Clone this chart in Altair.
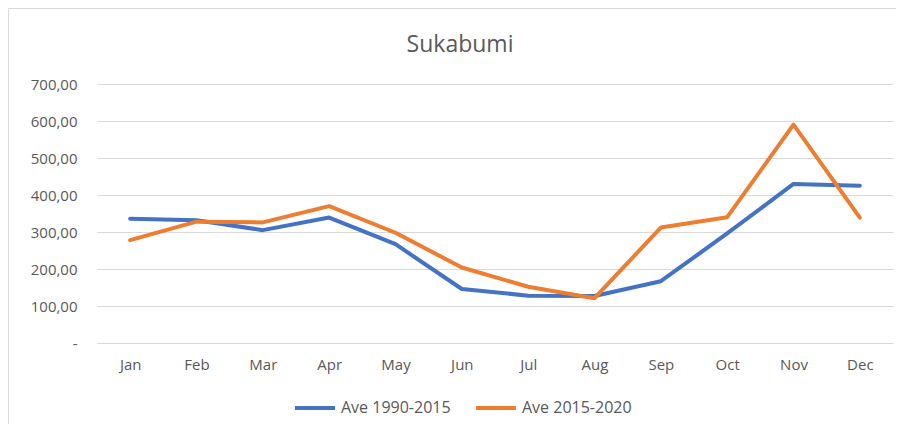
import altair as alt
import pandas as pd

months = ["Jan", "Feb", "Mar", "Apr", "May", "Jun", "Jul", "Aug", "Sep", "Oct", "Nov", "Dec"]
ave_1990_2015 = [336, 332, 305, 339, 267, 146, 128, 127, 167, 296, 430, 425]
ave_2015_2020 = [278, 328, 326, 370, 298, 204, 152, 121, 312, 340, 590, 339]
series_names = ["Ave 1990-2015", "Ave 2015-2020"]
colors = ["#4472C4", "#ED7D31"]
title_text = ["Sukabumi"]

rows = []
for name, vals in zip(series_names, [ave_1990_2015, ave_2015_2020]):
    for m, v in zip(months, vals):
        rows.append({"Month": m, "Value": v, "Series": name})
df = pd.DataFrame(rows)

W, H = 796, 259
PL, PT = 89, 76

font = "Open Sans"
gray = "#595959"

border = alt.Chart(pd.DataFrame({"a": [0]})).mark_rect(
    fill=None, stroke="#D9D9D9", strokeWidth=1, clip=False
).encode(
    x=alt.value(-PL + 0.5), x2=alt.value(W + 60),
    y=alt.value(-PT + 0.5), y2=alt.value(H + 200),
)

title = alt.Chart(pd.DataFrame({"t": title_text})).mark_text(
    font=font, fontSize=23, color=gray, align="center", baseline="middle", clip=False
).encode(text="t:N", x=alt.value(363), y=alt.value(-39))

lines = alt.Chart(df).mark_line(strokeWidth=4, strokeCap="round", strokeJoin="round").encode(
    x=alt.X("Month:N", sort=months, scale=alt.Scale(type="point", padding=0.5),
            axis=alt.Axis(title=None, labelAngle=0, ticks=False, domain=False, grid=False,
                          labelPadding=14, labelFontSize=15, labelColor=gray, labelFont=font)),
    y=alt.Y("Value:Q", scale=alt.Scale(domain=[0, 700], nice=False),
            axis=alt.Axis(title=None, values=[0, 100, 200, 300, 400, 500, 600, 700],
                          ticks=False, domain=False, gridColor="#D9D9D9", gridWidth=1,
                          labelPadding=20, labelFontSize=15, labelColor=gray, labelFont=font,
                          labelExpr="datum.value == 0 ? '-\u00a0\u00a0\u00a0' : replace(format(datum.value, '.2f'), '.', ',')")),
    color=alt.Color("Series:N", scale=alt.Scale(domain=series_names, range=colors),
                    legend=alt.Legend(title=None, orient="none", direction="horizontal",
                                      legendX=196, legendY=H + 43,
                                      symbolType="stroke", symbolSize=1600, symbolStrokeWidth=4,
                                      labelFontSize=16, labelColor=gray, labelFont=font,
                                      columnPadding=17, labelOffset=4)),
)

chart = alt.layer(border, title, lines).properties(
    width=W, height=H,
    autosize=alt.AutoSizeParams(type="none"),
    padding={"left": PL, "top": PT, "right": 3, "bottom": 81},
).configure_view(stroke=None)

chart.save("out.html", embed_options={"renderer": "svg", "actions": False})
